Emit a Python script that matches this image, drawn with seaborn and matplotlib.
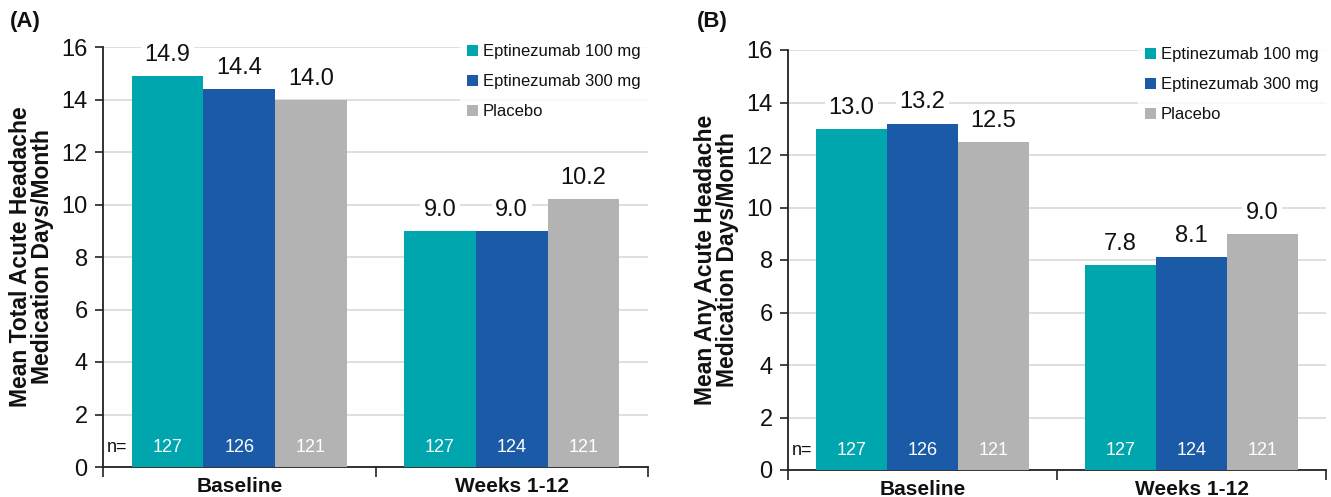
import matplotlib
matplotlib.use("Agg")
import matplotlib.pyplot as plt
import seaborn as sns
import pandas as pd
from matplotlib.patches import Patch

sns.set_theme(style="white")
plt.rcParams['font.family'] = ['Liberation Sans Narrow', 'Liberation Sans', 'DejaVu Sans']

periods = ["Baseline", "Weeks 1-12"]
groups = ["Eptinezumab 100 mg", "Eptinezumab 300 mg", "Placebo"]
colors = ["#00A6AE", "#1B5AA7", "#B3B3B3"]

a_values = {"Eptinezumab 100 mg": [14.9, 9.0],
            "Eptinezumab 300 mg": [14.4, 9.0],
            "Placebo": [14.0, 10.2]}
a_n = {"Eptinezumab 100 mg": [127, 127],
       "Eptinezumab 300 mg": [126, 124],
       "Placebo": [121, 121]}
b_values = {"Eptinezumab 100 mg": [13.0, 7.8],
            "Eptinezumab 300 mg": [13.2, 8.1],
            "Placebo": [12.5, 9.0]}
b_n = {"Eptinezumab 100 mg": [127, 127],
       "Eptinezumab 300 mg": [126, 124],
       "Placebo": [121, 121]}

panels = [
    ("(A)", "Mean Total Acute Headache\nMedication Days/Month", a_values, a_n,
     [103/1331, 1-467/497, (648-103)/1331, (467-47)/497], 10/1331),
    ("(B)", "Mean Any Acute Headache\nMedication Days/Month", b_values, b_n,
     [788/1331, 1-470/497, (1326-788)/1331, (470-50)/497], 697/1331),
]

fig = plt.figure(figsize=(13.31, 4.97), dpi=100)

for label, ylabel, vals, ns, rect, lx in panels:
    ax = fig.add_axes(rect)
    rows = []
    for g in groups:
        for i, p in enumerate(periods):
            rows.append({"period": p, "group": g, "value": vals[g][i], "n": ns[g][i]})
    df = pd.DataFrame(rows)
    sns.barplot(data=df, x="period", y="value", hue="group", order=periods,
                hue_order=groups, palette=colors, width=0.79, saturation=1,
                linewidth=0, ax=ax, legend=False, zorder=3)
    ax.set_ylim(0, 16)
    ax.set_xlim(-0.5, 1.5)
    ax.set_yticks(range(0, 17, 2))
    ax.yaxis.grid(True, color="#D9D9D9", linewidth=1.2, zorder=0)
    ax.set_axisbelow(True)
    for s in ["top", "right"]:
        ax.spines[s].set_visible(False)
    for s in ["left", "bottom"]:
        ax.spines[s].set_color("#222222")
        ax.spines[s].set_linewidth(1.3)
    ax.tick_params(axis="y", which="major", length=6, width=1.2, color="#222222",
                   labelsize=17, pad=5, left=True, labelcolor="#111111")
    ax.tick_params(axis="x", which="major", length=0, labelsize=15, pad=7,
                   labelcolor="#111111")
    ax.set_xticks([-0.5, 0.5, 1.5], minor=True)
    ax.tick_params(axis="x", which="minor", length=7, width=1.2, color="#222222",
                   bottom=True)
    for t in ax.get_xticklabels():
        t.set_fontweight("bold")
    ax.set_xlabel("")
    ax.set_ylabel(ylabel, fontsize=16.5, fontweight="bold", labelpad=5,
                  linespacing=0.95, color="#111111")

    for gi, container in enumerate(ax.containers):
        g = groups[gi]
        for pi, bar in enumerate(container):
            cx = bar.get_x() + bar.get_width() / 2
            ax.text(cx, bar.get_height() + 0.8, f"{vals[g][pi]:.1f}", ha="center",
                    va="center", fontsize=17, color="#111111", zorder=5,
                    bbox=dict(boxstyle="square,pad=0.15", facecolor="white",
                              edgecolor="none"))
            ax.text(cx, 0.76, str(ns[g][pi]), ha="center", va="center",
                    fontsize=13, color="white", zorder=5)
    first = ax.containers[0][0]
    ax.text(first.get_x() - 0.015, 0.76, "n=", ha="right", va="center",
            fontsize=13, color="#111111", zorder=5)

    handles = [Patch(facecolor=c, edgecolor="none") for c in colors]
    leg = ax.legend(handles, groups, loc="upper right", bbox_to_anchor=(1.0, 1.025),
                    frameon=True, prop={"family": ["Liberation Sans", "DejaVu Sans"], "size": 12},
                    handlelength=0.65, handleheight=0.65,
                    handletextpad=0.3, labelspacing=0.9, borderpad=0.45,
                    borderaxespad=0.0, fancybox=False)
    leg.get_frame().set_facecolor("white")
    leg.get_frame().set_edgecolor("white")
    for t in leg.get_texts():
        t.set_color("#111111")
    leg.set_zorder(6)

    fig.text(lx, 1 - 22/497, label, fontsize=16, fontweight="bold",
             va="center", ha="left", color="#111111")

fig.savefig("out.png", dpi=100)
